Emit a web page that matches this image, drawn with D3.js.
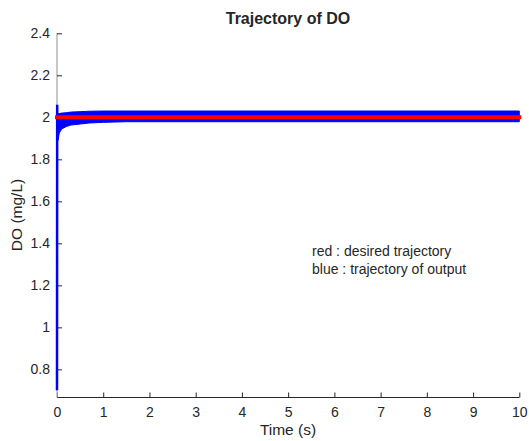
<!DOCTYPE html>
<html>
<head>
<meta charset="utf-8">
<script src="https://cdn.jsdelivr.net/npm/d3@7"></script>
<style>
  body { margin: 0; background: #fff; }
  text { font-family: Arial, "Liberation Sans", sans-serif; fill: #262626; }
</style>
</head>
<body>
<script>
// desired trajectory (red)
const desiredT = [0, 10];
const desiredV = [2, 2];

// initial rise of the output (blue)
const riseT = [0, 0.004, 0.012, 0.02];
const riseV = [0.70, 2.06, 1.89, 1.95];

// envelope of the oscillating output (blue band)
const envT = [0.02, 0.05, 0.1, 0.2, 0.3, 0.5, 0.7, 1.0, 1.5, 10];
const envUpper = [2.016, 2.018, 2.02, 2.022, 2.025, 2.027, 2.029, 2.03, 2.03, 2.03];
const envLower = [1.892, 1.925, 1.944, 1.956, 1.963, 1.968, 1.973, 1.976, 1.979, 1.979];

const xTicks = [0, 1, 2, 3, 4, 5, 6, 7, 8, 9, 10];
const yTicks = [0.8, 1, 1.2, 1.4, 1.6, 1.8, 2, 2.2, 2.4];

window.onload = function() {
  const w = 529;
  const h = 441;
  const left = 57, right = 519.3, top = 33.3, bottom = 397.5;

  let svg = d3.select("body")
              .append("svg")
              .attr("width", w)
              .attr("height", h);

  let xScale = d3.scaleLinear().domain([0, 10]).range([left, right]);
  let yScale = d3.scaleLinear().domain([0.666, 2.4]).range([bottom, top]);

  // axes first, data drawn on top
  let xAxis = d3.axisBottom(xScale).tickValues(xTicks).tickSize(-5).tickPadding(10).tickFormat(d3.format("d"));
  let yAxis = d3.axisLeft(yScale).tickValues(yTicks).tickSize(-5).tickPadding(7).tickFormat(function(d) { return String(d); });

  let gx = svg.append("g")
     .attr("transform", "translate(0," + bottom + ")")
     .call(xAxis);
  gx.select(".domain").attr("stroke", "#262626").attr("d", "M" + left + ",0H" + right);
  gx.selectAll(".tick line").attr("stroke", "#262626");
  gx.selectAll("text").style("font-size", "14px").attr("fill", "#262626");

  let gy = svg.append("g")
     .attr("transform", "translate(" + left + ",0)")
     .call(yAxis);
  gy.select(".domain").attr("stroke", "#b4b4b4").attr("stroke-width", 1.5).attr("d", "M0," + bottom + "V" + top);
  gy.selectAll(".tick line").attr("stroke", "#262626");
  gy.selectAll("text").style("font-size", "14px").attr("fill", "#262626");

  // blue band
  let band = envT.map(function(t, i) { return {t: t, hi: envUpper[i], lo: envLower[i]}; });
  svg.append("path")
     .datum(band)
     .attr("fill", "#0000ff")
     .attr("stroke", "#0000ff")
     .attr("stroke-width", 1)
     .attr("d", d3.area()
        .x(function(d) { return xScale(d.t); })
        .y0(function(d) { return yScale(d.lo); })
        .y1(function(d) { return yScale(d.hi); }));

  // blue rise
  let rise = riseT.map(function(t, i) { return [t, riseV[i]]; });
  svg.append("path")
     .datum(rise)
     .attr("fill", "none")
     .attr("stroke", "#0000ff")
     .attr("stroke-width", 2.5)
     .attr("d", d3.line()
        .x(function(d) { return xScale(d[0]); })
        .y(function(d) { return yScale(d[1]); }));

  // red desired line
  let desired = desiredT.map(function(t, i) { return [t, desiredV[i]]; });
  svg.append("path")
     .datum(desired)
     .attr("fill", "none")
     .attr("stroke", "#ff0000")
     .attr("stroke-width", 4)
     .attr("stroke-linecap", "square")
     .attr("d", d3.line()
        .x(function(d) { return xScale(d[0]); })
        .y(function(d) { return yScale(d[1]); }));

  // title and labels
  svg.append("text")
     .attr("x", 288)
     .attr("y", 24)
     .style("text-anchor", "middle")
     .style("font-size", "16px")
     .style("font-weight", "bold")
     .attr("fill", "#000")
     .text("Trajectory of DO");
  svg.append("text")
     .attr("x", 288)
     .attr("y", 435)
     .style("text-anchor", "middle")
     .style("font-size", "15.5px")
     .text("Time (s)");
  svg.append("text")
     .attr("transform", "translate(22,215) rotate(-90)")
     .style("text-anchor", "middle")
     .style("font-size", "15.5px")
     .text("DO (mg/L)");

  // annotation
  svg.append("text")
     .attr("x", 312)
     .attr("y", 256)
     .style("font-size", "14px")
     .attr("fill", "#000")
     .text("red : desired trajectory");
  svg.append("text")
     .attr("x", 312)
     .attr("y", 274)
     .style("font-size", "14px")
     .attr("fill", "#000")
     .text("blue : trajectory of output");
}
</script>
</body>
</html>
